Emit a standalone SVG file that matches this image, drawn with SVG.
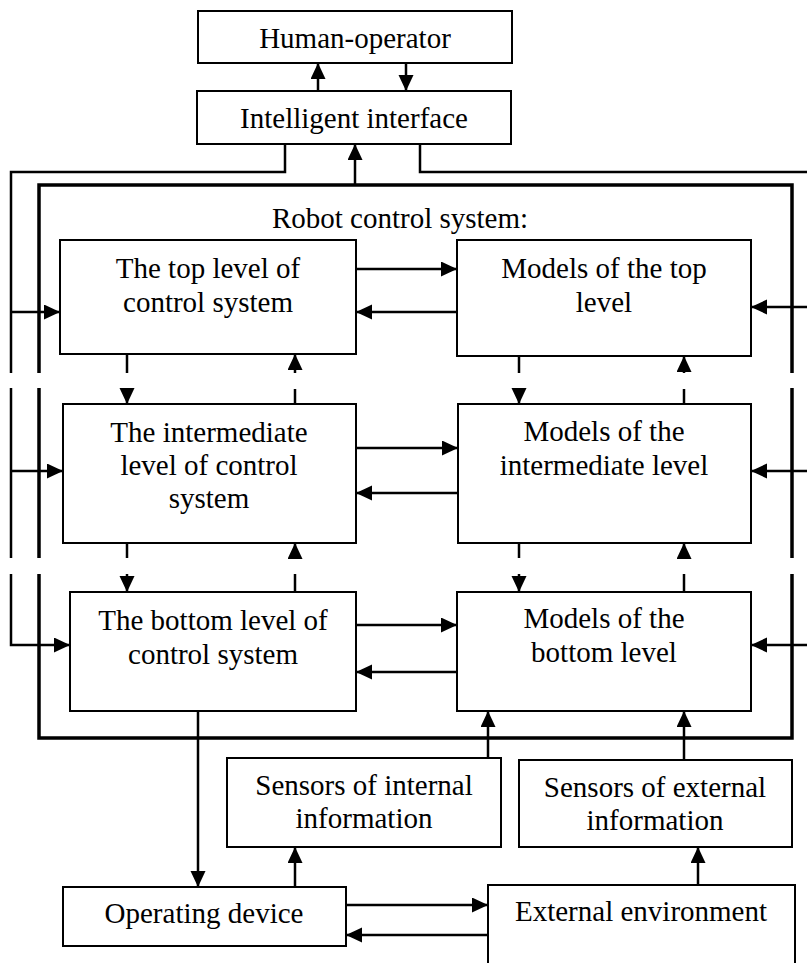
<svg xmlns="http://www.w3.org/2000/svg" width="807" height="963" viewBox="0 0 807 963">
<style>
.box{fill:#fff;stroke:#000;stroke-width:2}
.c{fill:none;stroke:#000;stroke-width:2.5}
.outer{fill:none;stroke:#000;stroke-width:3.5}
text{font-family:"Liberation Serif","Times New Roman",serif;font-size:29px;text-anchor:middle;fill:#000}
</style>
<defs>
<marker id="ah" markerUnits="userSpaceOnUse" markerWidth="17" markerHeight="16" refX="16" refY="7.5" orient="auto">
<path d="M0,0 L16,7.5 L0,15 Z" fill="#000"/>
</marker>
</defs>
<rect width="807" height="963" fill="#fff"/>
<g id="robot-control-system">
<path class="outer" d="M39,373 V185 H792 V373 M792,388 V558 M792,574 V738 H39 V574 M39,558 V388"/>
<text x="400" y="228">Robot control system:</text>
</g>
<g id="human-operator">
<rect class="box" x="198" y="11" width="314" height="52"/>
<text x="355" y="48">Human-operator</text>
</g>
<g id="intelligent-interface">
<rect class="box" x="197" y="91" width="314" height="53"/>
<text x="354" y="128">Intelligent interface</text>
</g>
<g id="top-control">
<rect class="box" x="60" y="240" width="296" height="114"/>
<text x="208" y="278">The top level of</text>
<text x="208" y="312">control system</text>
</g>
<g id="top-models">
<rect class="box" x="457" y="240" width="294" height="116"/>
<text x="604" y="278">Models of the top</text>
<text x="604" y="312">level</text>
</g>
<g id="intermediate-control">
<rect class="box" x="63" y="404" width="293" height="139"/>
<text x="209" y="442">The intermediate</text>
<text x="209" y="475">level of control</text>
<text x="209" y="508">system</text>
</g>
<g id="intermediate-models">
<rect class="box" x="458" y="404" width="293" height="139"/>
<text x="604" y="441">Models of the</text>
<text x="604" y="475">intermediate level</text>
</g>
<g id="bottom-control">
<rect class="box" x="70" y="592" width="286" height="119"/>
<text x="213" y="630">The bottom level of</text>
<text x="213" y="664">control system</text>
</g>
<g id="bottom-models">
<rect class="box" x="457" y="592" width="294" height="119"/>
<text x="604" y="628">Models of the</text>
<text x="604" y="662">bottom level</text>
</g>
<g id="sensors-internal">
<rect class="box" x="227" y="758" width="274" height="89"/>
<text x="364" y="795">Sensors of internal</text>
<text x="364" y="828">information</text>
</g>
<g id="sensors-external">
<rect class="box" x="519" y="760" width="273" height="87"/>
<text x="655" y="797">Sensors of external</text>
<text x="655" y="830">information</text>
</g>
<g id="operating-device">
<rect class="box" x="63" y="887" width="283" height="59"/>
<text x="204" y="923">Operating device</text>
</g>
<g id="external-environment">
<path class="box" d="M488,964 V885 H795 V964"/>
<text x="641" y="921">External environment</text>
</g>
<g id="connectors">
<path class="c" d="M318,91 V63" marker-end="url(#ah)"/>
<path class="c" d="M406,63 V91" marker-end="url(#ah)"/>
<path class="c" d="M355,185 V144" marker-end="url(#ah)"/>
<path class="c" d="M285,144 V172 H11 V373 M11,388 V558"/>
<path class="c" d="M11,574 V645 H70" marker-end="url(#ah)"/>
<path class="c" d="M11,312 H60" marker-end="url(#ah)"/>
<path class="c" d="M11,471 H63" marker-end="url(#ah)"/>
<path class="c" d="M420,144 V172 H808"/>
<path class="c" d="M808,307 H751" marker-end="url(#ah)"/>
<path class="c" d="M808,471 H751" marker-end="url(#ah)"/>
<path class="c" d="M808,645 H751" marker-end="url(#ah)"/>
<path class="c" d="M356,269 H457" marker-end="url(#ah)"/>
<path class="c" d="M457,312 H356" marker-end="url(#ah)"/>
<path class="c" d="M356,448 H458" marker-end="url(#ah)"/>
<path class="c" d="M458,493 H356" marker-end="url(#ah)"/>
<path class="c" d="M356,625 H457" marker-end="url(#ah)"/>
<path class="c" d="M457,672 H356" marker-end="url(#ah)"/>
<path class="c" d="M127,354 V373"/>
<path class="c" d="M127,389 V404" marker-end="url(#ah)"/>
<path class="c" d="M295,404 V389"/>
<path class="c" d="M295,373 V354" marker-end="url(#ah)"/>
<path class="c" d="M519,356 V373"/>
<path class="c" d="M519,389 V404" marker-end="url(#ah)"/>
<path class="c" d="M684,404 V389"/>
<path class="c" d="M684,373 V356" marker-end="url(#ah)"/>
<path class="c" d="M127,543 V558"/>
<path class="c" d="M127,574 V592" marker-end="url(#ah)"/>
<path class="c" d="M295,592 V574"/>
<path class="c" d="M295,558 V543" marker-end="url(#ah)"/>
<path class="c" d="M519,543 V558"/>
<path class="c" d="M519,574 V592" marker-end="url(#ah)"/>
<path class="c" d="M684,592 V574"/>
<path class="c" d="M684,558 V543" marker-end="url(#ah)"/>
<path class="c" d="M198,711 V887" marker-end="url(#ah)"/>
<path class="c" d="M488,758 V711" marker-end="url(#ah)"/>
<path class="c" d="M684,760 V711" marker-end="url(#ah)"/>
<path class="c" d="M295,887 V847" marker-end="url(#ah)"/>
<path class="c" d="M698,885 V847" marker-end="url(#ah)"/>
<path class="c" d="M346,905 H488" marker-end="url(#ah)"/>
<path class="c" d="M488,935 H346" marker-end="url(#ah)"/>
</g>
</svg>
